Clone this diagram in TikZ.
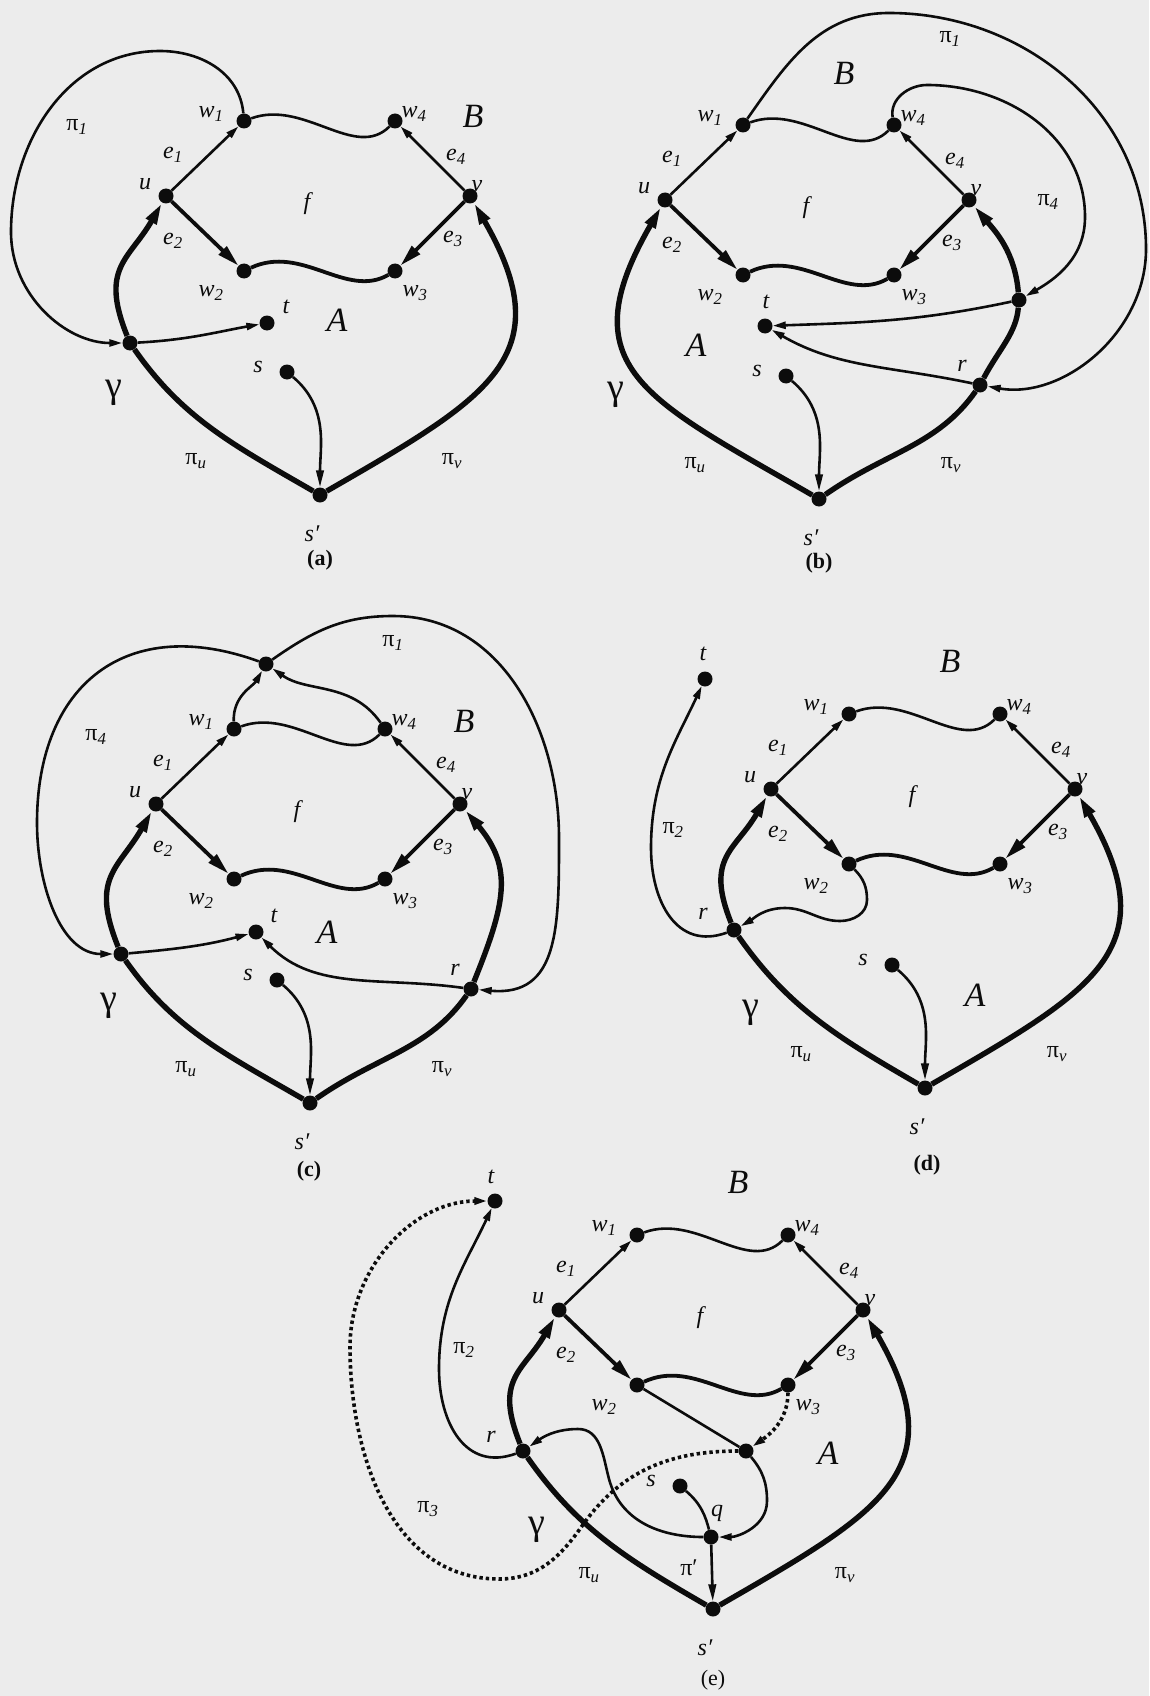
\documentclass[tikz,border=0pt]{standalone}
\usepackage{fontspec}
\setmainfont{Liberation Serif}
\usetikzlibrary{arrows.meta}

\definecolor{paper}{RGB}{236,236,236}
\definecolor{ink}{RGB}{12,12,12}

\newcommand{\pilab}[1]{{\upshape π}\textsubscript{#1}}

% the face f, its corners and the two paths ending in s'
\newcommand{\drawcore}{%
  \node[dot] (sp) at (0,0) {};
  \node[dot] (s) at (-33,123) {};
  \node[dot] (u) at (-154,299) {};
  \node[dot] (v) at (150,299) {};
  \node[dot] (w1) at (-76,374) {};
  \node[dot] (w2) at (-76,224) {};
  \node[dot] (w3) at (75,224) {};
  \node[dot] (w4) at (75,374) {};
  \draw[fineline, smallhead] (u) -- (w1);
  \draw[midline, bighead] (u) -- (w2);
  \draw[midline, bighead] (v) -- (w3);
  \draw[fineline, smallhead] (v) -- (w4);
  \draw[fineline] (w1) to[out=20, in=225] (w4);
  \draw[midline] (w2) to[out=25, in=210] (w3);
  \node[lbl] (lu) at (-175,311) {u};
  \node[lbl] (lv) at (157,309) {v};
  \node[lbl] (lw1) at (-109,381) {w\textsubscript{1}};
  \node[lbl] (lw2) at (-109,202) {w\textsubscript{2}};
  \node[lbl] (lw3) at (95,202) {w\textsubscript{3}};
  \node[lbl] (lw4) at (94,381) {w\textsubscript{4}};
  \node[lbl] (le1) at (-147,340) {e\textsubscript{1}};
  \node[lbl] (le2) at (-147,254) {e\textsubscript{2}};
  \node[lbl] (le3) at (133,256) {e\textsubscript{3}};
  \node[lbl] (le4) at (136,338) {e\textsubscript{4}};
  \node[lbl] (lf) at (-13,291) {f};
  \node[lbl] (ls) at (-62,128) {s};
  \node[lbl] (lsp) at (-8,-39) {s′};
  \node[lbl] (lpiu) at (-124,34) {\pilab{u}};
  \node[lbl] (lpiv) at (132,34) {\pilab{v}};
}

\begin{document}
\begin{tikzpicture}[
    x=1pt, y=1pt, color=ink,
    dot/.style={circle, fill=ink, inner sep=0pt, minimum size=15pt},
    lbl/.style={font=\fontsize{24}{28}\selectfont\itshape, inner sep=0pt},
    big/.style={font=\fontsize{34}{38}\selectfont\itshape, inner sep=0pt},
    greek/.style={font=\fontsize{38}{42}\selectfont, inner sep=0pt},
    caption/.style={font=\fontsize{22}{26}\selectfont\bfseries, inner sep=0pt},
    fineline/.style={line width=2.6pt},
    midline/.style={line width=3.8pt},
    heavyline/.style={line width=5.4pt},
    dotline/.style={line width=3.6pt, dash pattern=on 3.4pt off 3pt},
    smallhead/.style={-{Triangle[length=13pt, width=7pt]}},
    midhead/.style={-{Triangle[length=17pt, width=7.5pt]}},
    bighead/.style={-{Triangle[length=22pt, width=11pt]}}
  ]
  \fill[paper] (0,0) rectangle (1149,-1696);
  \useasboundingbox (0,0) rectangle (1149,-1696);

  % (a)
  \begin{scope}[shift={(320,-495)}, name prefix=a-]
    \drawcore
    \node[dot] (g) at (-190,152) {};
    \node[dot] (t) at (-53,172) {};
    \draw[heavyline, bighead] (sp) to[out=150, in=-55] (g)
      to[out=112, in=240, looseness=1.3] (u);
    \draw[heavyline, bighead] (sp) to[out=30, in=-60, looseness=1.45] (v);
    \draw[fineline, smallhead] (w1) to[out=95, in=0] (-160,444)
      to[out=180, in=90] (-309,263) to[out=-90, in=180] (g);
    \draw[fineline, smallhead] (g) to[out=3, in=190] (t);
    \draw[fineline, midhead] (s) to[out=-40, in=90] (sp);
    \node[lbl] (lt) at (-34,188) {t};
    \node[big] (lA) at (17,175) {A};
    \node[big] (lB) at (153,379) {B};
    \node[lbl] (lpi1) at (-243,368) {\pilab{1}};
    \node[greek] (lgamma) at (-206,102) {γ};
  \end{scope}
  \node[caption] (capa) at (320,-560) {(a)};

  % (b)
  \begin{scope}[shift={(819,-499)}, name prefix=b-]
    \drawcore
    \node[dot] (t) at (-54,173) {};
    \node[dot] (m) at (200,199) {};
    \node[dot] (r) at (161,114) {};
    \draw[heavyline, bighead] (sp) to[out=150, in=240, looseness=1.5] (u);
    \draw[heavyline, bighead] (sp) to[out=35, in=235] (r)
      to[out=62, in=265] (m) to[out=95, in=-50] (v);
    \draw[fineline, smallhead] (w1) to[out=55, in=180] (70,486)
      to[out=0, in=90] (327,250) to[out=-90, in=-10] (r);
    \draw[fineline, smallhead] (w4) to[out=100, in=180] (108,414)
      to[out=0, in=90] (266,282) to[out=-90, in=30] (m);
    \draw[fineline, smallhead] (m) to[out=192, in=2] (t);
    \draw[fineline, smallhead] (r) to[out=168, in=-30] (t);
    \draw[fineline, midhead] (s) to[out=-40, in=90] (sp);
    \node[lbl] (lt) at (-53,197) {t};
    \node[lbl] (lr) at (143,133) {r};
    \node[big] (lA) at (-123,154) {A};
    \node[big] (lB) at (25,426) {B};
    \node[lbl] (lpi1) at (131,460) {\pilab{1}};
    \node[lbl] (lpi4) at (229,297) {\pilab{4}};
    \node[greek] (lgamma) at (-203,104) {γ};
  \end{scope}
  \node[caption] (capb) at (819,-563) {(b)};

  % (c)
  \begin{scope}[shift={(310,-1103)}, name prefix=c-]
    \drawcore
    \node[dot] (x) at (-44,439) {};
    \node[dot] (t) at (-54,171) {};
    \node[dot] (g) at (-189,149) {};
    \node[dot] (r) at (161,114) {};
    \draw[heavyline, bighead] (sp) to[out=150, in=-55] (g)
      to[out=112, in=240, looseness=1.3] (u);
    \draw[heavyline, bighead] (sp) to[out=35, in=235] (r)
      to[out=68, in=-50, looseness=1.2] (v);
    \draw[fineline, smallhead] (w1) to[out=92, in=240] (x);
    \draw[fineline, smallhead] (w4) to[out=125, in=-35] (x);
    \draw[fineline, smallhead] (x) to[out=35, in=180] (83,487)
      to[out=0, in=90] (249,265) to[out=-90, in=-5, looseness=1.3] (r);
    \draw[fineline, smallhead] (x) to[out=160, in=90, looseness=1.3] (-273,280)
      to[out=-90, in=180] (g);
    \draw[fineline, smallhead] (g) to[out=5, in=195] (t);
    \draw[fineline, smallhead] (r) to[out=172, in=-45] (t);
    \draw[fineline, midhead] (s) to[out=-40, in=90] (sp);
    \node[lbl] (lt) at (-36,187) {t};
    \node[lbl] (lr) at (145,133) {r};
    \node[big] (lA) at (17,171) {A};
    \node[big] (lB) at (154,382) {B};
    \node[lbl] (lpi1) at (83,460) {\pilab{1}};
    \node[lbl] (lpi4) at (-214,366) {\pilab{4}};
    \node[greek] (lgamma) at (-201,97) {γ};
  \end{scope}
  \node[caption] (capc) at (309,-1171) {(c)};

  % (d)
  \begin{scope}[shift={(925,-1088)}, name prefix=d-]
    \drawcore
    \node[dot] (t) at (-220,409) {};
    \node[dot] (r) at (-191,158) {};
    \draw[heavyline, bighead] (sp) to[out=150, in=-55] (r)
      to[out=112, in=240, looseness=1.3] (u);
    \draw[heavyline, bighead] (sp) to[out=30, in=-60, looseness=1.45] (v);
    \draw[fineline, smallhead] (w2) to[out=-45, in=90] (-58,188)
      to[out=-90, in=0] (-85,167) to[out=180, in=0] (-140,180)
      to[out=180, in=30] (r);
    \draw[fineline, smallhead] (r) to[out=200, in=-90, looseness=1.2] (-274,240)
      to[out=90, in=-115] (t);
    \draw[fineline, midhead] (s) to[out=-40, in=90] (sp);
    \node[lbl] (lt) at (-222,434) {t};
    \node[lbl] (lr) at (-222,174) {r};
    \node[big] (lA) at (50,93) {A};
    \node[big] (lB) at (25,427) {B};
    \node[lbl] (lpi2) at (-252,258) {\pilab{2}};
    \node[greek] (lgamma) at (-174,75) {γ};
  \end{scope}
  \node[caption] (capd) at (927,-1165) {(d)};

  % (e)
  \begin{scope}[shift={(713,-1609)}, name prefix=e-]
    \drawcore
    \node[dot] (t) at (-218,408) {};
    \node[dot] (r) at (-190,158) {};
    \node[dot] (x) at (33,158) {};
    \node[dot] (q) at (-2,72) {};
    \draw[heavyline, bighead] (sp) to[out=150, in=-55] (r)
      to[out=112, in=240, looseness=1.3] (u);
    \draw[heavyline, bighead] (sp) to[out=30, in=-60, looseness=1.45] (v);
    \draw[fineline, smallhead] (r) to[out=200, in=-90, looseness=1.2] (-274,240)
      to[out=90, in=-115] (t);
    \draw[fineline, smallhead] (w2) -- (x) to[out=-50, in=90] (54,108)
      to[out=-90, in=0] (q);
    \draw[fineline, smallhead] (q) to[out=180, in=-75] (-104,130)
      to[out=105, in=0] (-135,180) to[out=180, in=35] (r);
    \draw[dotline, smallhead] (w3) to[out=-90, in=35] (x);
    \draw[dotline, smallhead] (x) to[out=180, in=55] (-131,83)
      to[out=235, in=0] (-214,30) to[out=180, in=-90] (-363,262)
      to[out=90, in=180] (t);
    \draw[fineline] (s) to[out=-40, in=105] (q);
    \draw[fineline, midhead] (q) -- (sp);
    \node[lbl] (lt) at (-222,432) {t};
    \node[lbl] (lr) at (-222,172) {r};
    \node[lbl] (lq) at (4,96) {q};
    \node[big] (lA) at (115,156) {A};
    \node[big] (lB) at (25,427) {B};
    \node[lbl] (lpi2) at (-249,259) {\pilab{2}};
    \node[lbl] (lpi3) at (-285,100) {\pilab{3}};
    \node[lbl] (lpip) at (-24,41) {\upshape π′};
    \node[greek] (lgamma) at (-176,79) {γ};
  \end{scope}
  \node[caption, font=\fontsize{22}{26}\selectfont] (cape) at (713,-1680) {(e)};
\end{tikzpicture}
\end{document}
